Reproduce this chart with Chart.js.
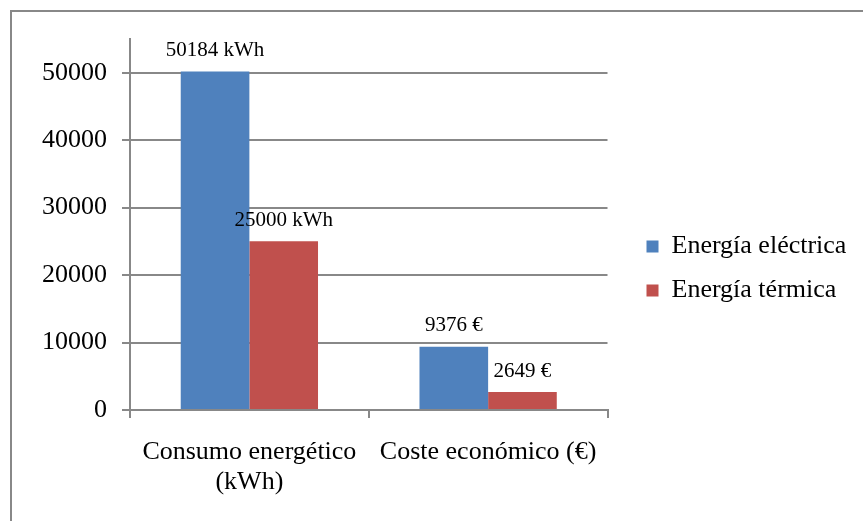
<!DOCTYPE html>
<html>
<head>
<meta charset="utf-8">
<script src="https://cdn.jsdelivr.net/npm/chart.js@4/dist/chart.umd.min.js"></script>
<style>
  html, body { margin: 0; padding: 0; background: #fff; }
  #wrap { position: relative; width: 863px; height: 521px; overflow: hidden; }
  #frame { position: absolute; left: 10px; top: 10px; width: 900px; height: 600px;
           border-left: 2px solid #888; border-top: 2px solid #888; box-sizing: border-box; }
  canvas { position: absolute; left: 0; top: 0; }
</style>
</head>
<body>
<div id="wrap">
  <div id="frame"></div>
  <canvas id="c" width="863" height="521"></canvas>
</div>
<script>
// Categories and series
const categories = [['Consumo energético', '(kWh)'], 'Coste económico (€)'];
const units = ['kWh', '€'];
const seriesNames = ['Energía eléctrica', 'Energía térmica'];
const electricValues = [50184, 9376];
const thermalValues = [25000, 2649];
const yTicks = [0, 10000, 20000, 30000, 40000, 50000];

const FONT = '"Liberation Serif", "Times New Roman", serif';
const GRID = '#888888';

// Value labels drawn above each bar
const valueLabels = {
  id: 'valueLabels',
  afterDatasetsDraw(chart) {
    const ctx = chart.ctx;
    ctx.save();
    ctx.font = '21px ' + FONT;
    ctx.fillStyle = '#000';
    ctx.textAlign = 'center';
    ctx.textBaseline = 'middle';
    chart.data.datasets.forEach((ds, di) => {
      const meta = chart.getDatasetMeta(di);
      meta.data.forEach((bar, i) => {
        ctx.fillText(ds.data[i] + ' ' + units[i], bar.x, bar.y - 21);
      });
    });
    ctx.restore();
  }
};

// Leave a gap between the plot and the legend column, and let the column run to the edge
const legendGap = {
  id: 'legendGap',
  afterLayout(chart) {
    const lg = chart.legend;
    if (!lg) return;
    lg.left += 21;
    lg.right = chart.width;
    lg.width = lg.right - lg.left;
    lg.top -= 9; lg.bottom -= 9;
  }
};

new Chart(document.getElementById('c'), {
  type: 'bar',
  data: {
    labels: categories,
    datasets: [
      { label: seriesNames[0], data: electricValues, backgroundColor: '#4F81BD' },
      { label: seriesNames[1], data: thermalValues, backgroundColor: '#C0504D' }
    ]
  },
  options: {
    responsive: false,
    animation: false,
    layout: { padding: { left: 27, top: 39, right: 62, bottom: 5 } },
    datasets: { bar: { categoryPercentage: 0.575, barPercentage: 1.0 } },
    plugins: {
      legend: {
        position: 'right',
        labels: {
          font: { family: FONT, size: 26 },
          color: '#000',
          boxWidth: 12,
          boxHeight: 12,
          padding: 18
        }
      },
      tooltip: { enabled: false }
    },
    scales: {
      x: {
        grid: { drawOnChartArea: false, color: GRID, lineWidth: 2, tickLength: 8, offset: true },
        border: { color: GRID, width: 2 },
        ticks: { font: { family: FONT, size: 26, lineHeight: 1.154 }, color: '#000', padding: 19, maxRotation: 0 }
      },
      y: {
        min: 0,
        max: 55000,
        afterBuildTicks(axis) { axis.ticks = yTicks.map(v => ({ value: v })); },
        grid: { color: GRID, lineWidth: 2, tickLength: 8 },
        border: { color: GRID, width: 2 },
        ticks: { font: { family: FONT, size: 26 }, color: '#000', padding: 15, callback: v => String(v) }
      }
    }
  },
  plugins: [valueLabels, legendGap]
});
</script>
</body>
</html>
